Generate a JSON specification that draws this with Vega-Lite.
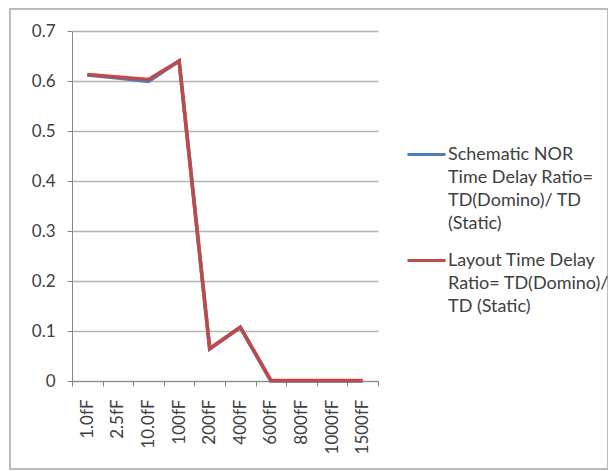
{
  "$schema": "https://vega.github.io/schema/vega-lite/v6.json",
  "width": 598,
  "height": 460,
  "padding": {"left": 10, "top": 9, "right": 0, "bottom": 2},
  "autosize": {"type": "none"},
  "background": "white",
  "config": {
    "font": "Lato",
    "view": {"stroke": "#a6a6a6", "strokeWidth": 1.5}
  },
  "data": {
    "values": [
      {"load": "1.0fF", "series": "Schematic NOR Time Delay Ratio= TD(Domino)/ TD (Static)", "ratio": 0.612},
      {"load": "2.5fF", "series": "Schematic NOR Time Delay Ratio= TD(Domino)/ TD (Static)", "ratio": 0.606},
      {"load": "10.0fF", "series": "Schematic NOR Time Delay Ratio= TD(Domino)/ TD (Static)", "ratio": 0.599},
      {"load": "100fF", "series": "Schematic NOR Time Delay Ratio= TD(Domino)/ TD (Static)", "ratio": 0.64},
      {"load": "200fF", "series": "Schematic NOR Time Delay Ratio= TD(Domino)/ TD (Static)", "ratio": 0.064},
      {"load": "400fF", "series": "Schematic NOR Time Delay Ratio= TD(Domino)/ TD (Static)", "ratio": 0.107},
      {"load": "600fF", "series": "Schematic NOR Time Delay Ratio= TD(Domino)/ TD (Static)", "ratio": 0.0},
      {"load": "800fF", "series": "Schematic NOR Time Delay Ratio= TD(Domino)/ TD (Static)", "ratio": 0.0},
      {"load": "1000fF", "series": "Schematic NOR Time Delay Ratio= TD(Domino)/ TD (Static)", "ratio": 0.0},
      {"load": "1500fF", "series": "Schematic NOR Time Delay Ratio= TD(Domino)/ TD (Static)", "ratio": 0.0},
      {"load": "1.0fF", "series": "Layout Time Delay Ratio= TD(Domino)/ TD (Static)", "ratio": 0.613},
      {"load": "2.5fF", "series": "Layout Time Delay Ratio= TD(Domino)/ TD (Static)", "ratio": 0.608},
      {"load": "10.0fF", "series": "Layout Time Delay Ratio= TD(Domino)/ TD (Static)", "ratio": 0.603},
      {"load": "100fF", "series": "Layout Time Delay Ratio= TD(Domino)/ TD (Static)", "ratio": 0.64},
      {"load": "200fF", "series": "Layout Time Delay Ratio= TD(Domino)/ TD (Static)", "ratio": 0.065},
      {"load": "400fF", "series": "Layout Time Delay Ratio= TD(Domino)/ TD (Static)", "ratio": 0.108},
      {"load": "600fF", "series": "Layout Time Delay Ratio= TD(Domino)/ TD (Static)", "ratio": 0.001},
      {"load": "800fF", "series": "Layout Time Delay Ratio= TD(Domino)/ TD (Static)", "ratio": 0.001},
      {"load": "1000fF", "series": "Layout Time Delay Ratio= TD(Domino)/ TD (Static)", "ratio": 0.001},
      {"load": "1500fF", "series": "Layout Time Delay Ratio= TD(Domino)/ TD (Static)", "ratio": 0.001}
    ]
  },
  "mark": {"type": "line", "strokeWidth": 3.6, "strokeJoin": "miter", "clip": false},
  "encoding": {
    "x": {
      "field": "load",
      "type": "ordinal",
      "sort": null,
      "scale": {"type": "band", "range": [62, 368], "paddingInner": 0, "paddingOuter": 0},
      "axis": {
        "title": null,
        "orient": "bottom",
        "offset": -88,
        "labelAngle": -90,
        "tickBand": "extent",
        "tickSize": 5,
        "labelPadding": 13,
        "grid": false,
        "domainColor": "#868686",
        "tickColor": "#868686",
        "labelFont": "Lato",
        "labelFontSize": 17,
        "labelColor": "#404040"
      }
    },
    "y": {
      "field": "ratio",
      "type": "quantitative",
      "scale": {"domain": [0, 0.7], "range": [372, 22], "nice": false},
      "axis": {
        "title": null,
        "offset": -62,
        "values": [0, 0.1, 0.2, 0.3, 0.4, 0.5, 0.6, 0.7],
        "format": "~g",
        "tickSize": 5,
        "labelPadding": 12,
        "grid": true,
        "gridColor": "#b3b3b3",
        "gridWidth": 1.3,
        "domainColor": "#868686",
        "tickColor": "#868686",
        "labelFont": "Lato",
        "labelFontSize": 17,
        "labelColor": "#404040"
      }
    },
    "color": {
      "field": "series",
      "type": "nominal",
      "scale": {
        "domain": ["Schematic NOR Time Delay Ratio= TD(Domino)/ TD (Static)", "Layout Time Delay Ratio= TD(Domino)/ TD (Static)"],
        "range": ["#4a7ebb", "#be4b48"]
      },
      "legend": {
        "title": null,
        "orient": "none",
        "legendX": 396,
        "legendY": 125,
        "padding": 0,
        "symbolType": "stroke",
        "symbolSize": 1444,
        "symbolStrokeWidth": 3,
        "labelFont": "Lato",
        "labelFontSize": 18,
        "labelColor": "#404040",
        "labelLimit": 0,
        "labelOffset": 1,
        "rowPadding": 6,
        "labelExpr": "datum.label === 'Layout Time Delay Ratio= TD(Domino)/ TD (Static)' ? ['Layout Time Delay', 'Ratio= TD(Domino)/', 'TD (Static)'] : ['Schematic NOR', 'Time Delay Ratio=', 'TD(Domino)/ TD', '(Static)']",
        "encode": {
          "labels": {"update": {"lineHeight": {"value": 23.3}}}
        }
      }
    }
  }
}
